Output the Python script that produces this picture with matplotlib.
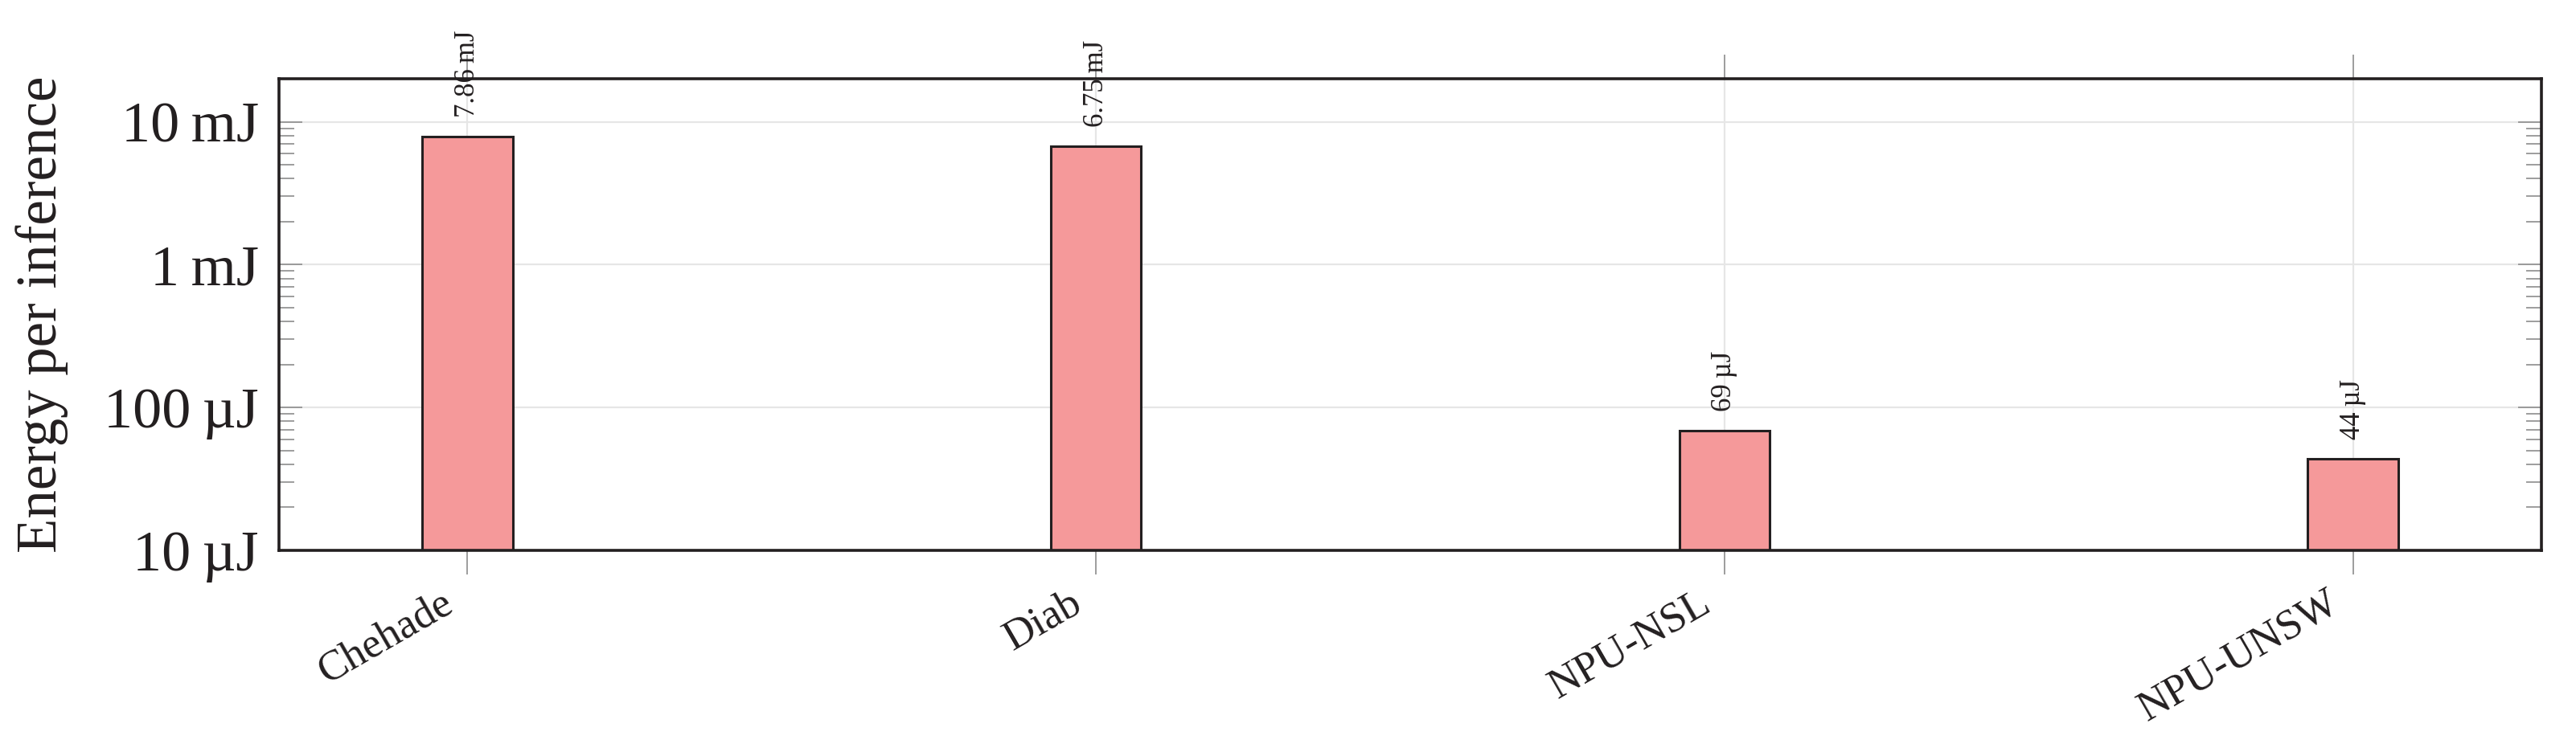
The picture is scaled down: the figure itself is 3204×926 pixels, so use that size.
import matplotlib
matplotlib.use("Agg")
import matplotlib.pyplot as plt
import matplotlib.transforms as mtransforms
from matplotlib.ticker import LogLocator, NullFormatter

plt.rcParams['font.family'] = ['Liberation Serif', 'DejaVu Serif']

# dados
modelos = ["Chehade", "Diab", "NPU-NSL", "NPU-UNSW"]
energia = [7.86e-3, 6.75e-3, 69e-6, 44e-6]  # J por inferência
rotulos = ["7.86\u2009mJ", "6.75\u2009mJ", "69\u2009\u00b5J", "44\u2009\u00b5J"]
yticks = [1e-5, 1e-4, 1e-3, 1e-2]
yticklabels = ["10\u2009\u00b5J", "100\u2009\u00b5J", "1\u2009mJ", "10\u2009mJ"]

cor_barra = "#f5999a"
cor_borda = "#231f20"
cor_grade = "#e6e6e6"
cor_tick = "#8c8c8c"

fig = plt.figure(figsize=(16.02, 4.63), dpi=200)
ax = fig.add_axes([0.1083, 0.2603, 0.8783, 0.6339])

x = list(range(len(modelos)))
ax.bar(x, energia, width=0.144, color=cor_barra, edgecolor=cor_borda,
       linewidth=1.1, zorder=3)

ax.set_yscale('log')
ax.set_ylim(1e-5, 2e-2)
ax.set_xlim(-0.3, 3.3)

for xi, v, r in zip(x, energia, rotulos):
    ax.annotate(r, (xi, v), xytext=(0, 8.5), textcoords='offset points',
                rotation=90, ha='center', va='bottom', fontsize=12.5,
                color=cor_borda, zorder=4)

ax.set_yticks(yticks)
ax.set_yticklabels(yticklabels, fontsize=26, color=cor_borda)
ax.yaxis.set_minor_locator(LogLocator(base=10, subs=range(2, 10)))
ax.yaxis.set_minor_formatter(NullFormatter())
ax.tick_params(axis='y', which='major', direction='in', length=10.5,
               width=0.6, color=cor_tick, left=True, right=True, pad=9)
ax.tick_params(axis='y', which='minor', direction='in', length=7,
               width=0.6, color=cor_tick, left=True, right=True)

ax.set_xticks(x)
ax.set_xticklabels(modelos, fontsize=19, rotation=30, ha='right',
                   va='top', rotation_mode='anchor', color=cor_borda)
ax.tick_params(axis='x', which='major', direction='out', length=10.8,
               width=0.6, color=cor_tick, top=True, bottom=True, pad=3)

# desloca os rótulos do eixo x um pouco para a esquerda
desloc = mtransforms.ScaledTranslation(-12 / 72, -1 / 72, fig.dpi_scale_trans)
for lbl in ax.get_xticklabels():
    lbl.set_transform(lbl.get_transform() + desloc)

ax.grid(True, which='major', axis='both', color=cor_grade, linewidth=0.8)
ax.set_axisbelow(True)

for s in ax.spines.values():
    s.set_color(cor_borda)
    s.set_linewidth(1.3)
    s.set_zorder(5)

ax.set_ylabel("Energy per inference", fontsize=25.5, color=cor_borda, labelpad=16)

fig.savefig("out.png", dpi=200)
